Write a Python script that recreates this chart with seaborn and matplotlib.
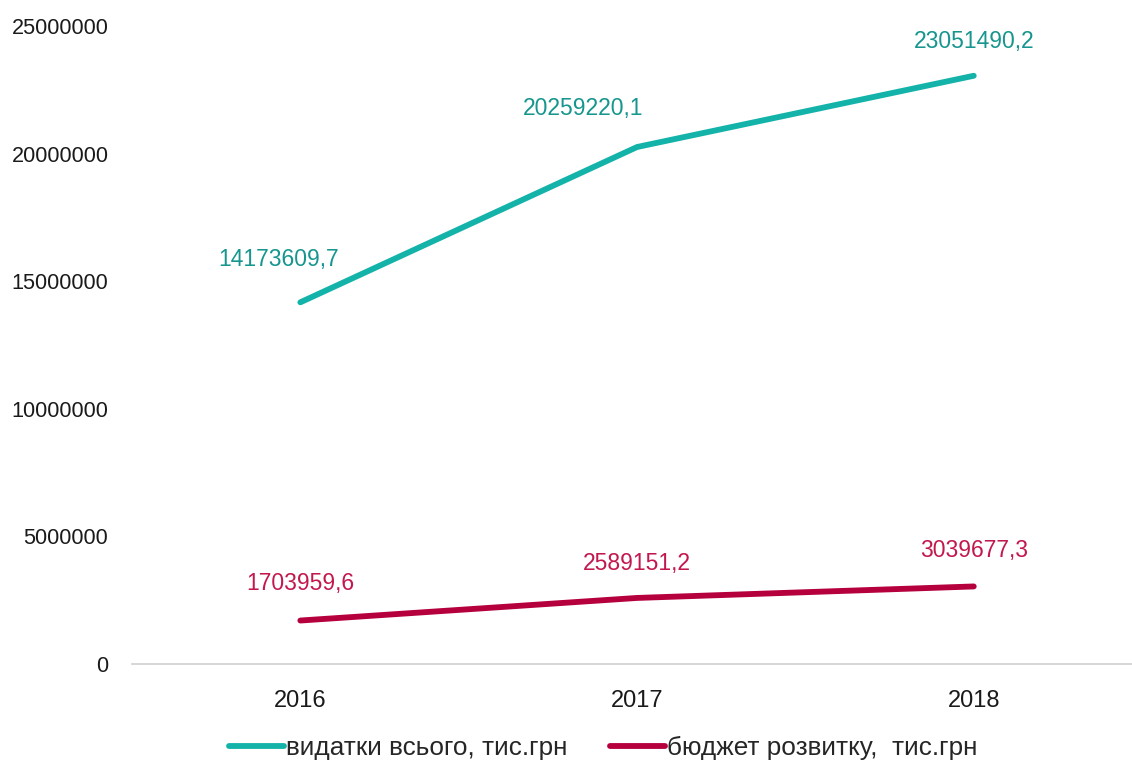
import matplotlib
matplotlib.use("Agg")
import matplotlib.pyplot as plt
import seaborn as sns
import pandas as pd
from matplotlib.lines import Line2D

years = ["2016", "2017", "2018"]
total_spending = [14173609.7, 20259220.1, 23051490.2]
development_budget = [1703959.6, 2589151.2, 3039677.3]
series_names = ["видатки всього, тис.грн", "бюджет розвитку,  тис.грн"]
yticks = [0, 5000000, 10000000, 15000000, 20000000, 25000000]

line_colors = ["#14B3AA", "#B5003D"]
label_colors = ["#16968E", "#C2184E"]

sns.set_theme(style="white")
plt.rcParams["font.family"] = ["Liberation Sans Narrow", "Liberation Sans", "DejaVu Sans"]

df = pd.DataFrame({
    "year": years * 2,
    "value": total_spending + development_budget,
    "series": [series_names[0]] * 3 + [series_names[1]] * 3,
})

fig = plt.figure(figsize=(11.32, 7.68), dpi=100)
ax = fig.add_axes([0.1166, 0.1354, 0.8834, 0.8307])

sns.lineplot(data=df, x="year", y="value", hue="series", palette=line_colors,
             linewidth=4.2, ax=ax, legend=False, sort=False)
for ln in ax.get_lines():
    ln.set_solid_capstyle("round")
    ln.set_solid_joinstyle("round")

ax.set_xlim(-0.5, 2.47)
ax.set_ylim(0, 25000000)
ax.set_yticks(yticks)
ax.set_yticklabels([str(v) for v in yticks])
ax.set_xlabel("")
ax.set_ylabel("")
ax.tick_params(axis="both", length=0, colors="#1a1a1a")
ax.tick_params(axis="y", labelsize=15.6, pad=17)
ax.tick_params(axis="x", labelsize=17, pad=19)
for side in ["left", "right", "top"]:
    ax.spines[side].set_visible(False)
ax.spines["bottom"].set_color("#d0d0d0")
ax.spines["bottom"].set_linewidth(1.2)

def fmt(v):
    return f"{v:.1f}".replace(".", ",")

top_offsets = [(-16, 31), (-39, 28), (0, 25)]
low_offsets = [(0, 27), (0, 25), (0, 26)]
for i, v in enumerate(total_spending):
    ax.annotate(fmt(v), (i, v), xytext=top_offsets[i], textcoords="offset points",
                ha="center", va="center", fontsize=16.5, color=label_colors[0])
for i, v in enumerate(development_budget):
    ax.annotate(fmt(v), (i, v), xytext=low_offsets[i], textcoords="offset points",
                ha="center", va="center", fontsize=16.5, color=label_colors[1])

handles = [Line2D([0], [0], color=c, linewidth=4.2, solid_capstyle="round") for c in line_colors]
fig.legend(handles, series_names, loc="center", bbox_to_anchor=(0.533, 0.026), ncol=2,
           frameon=False, fontsize=18.8, handlelength=2.1, handletextpad=0.08,
           columnspacing=1.65)

fig.savefig("out.png", dpi=100)
